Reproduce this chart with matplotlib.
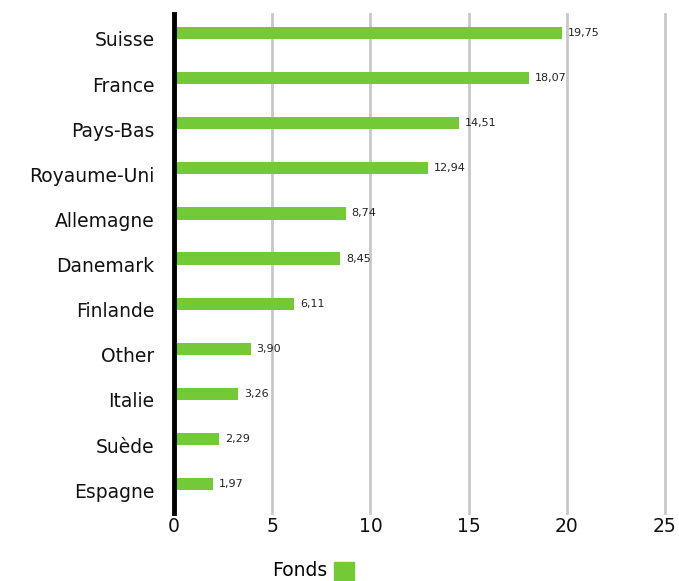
import matplotlib.pyplot as plt
from matplotlib.patches import Rectangle
from matplotlib.transforms import ScaledTranslation

countries = ['Suisse', 'France', 'Pays-Bas', 'Royaume-Uni', 'Allemagne', 'Danemark',
             'Finlande', 'Other', 'Italie', 'Suède', 'Espagne']
weights = [19.75, 18.07, 14.51, 12.94, 8.74, 8.45, 6.11, 3.90, 3.26, 2.29, 1.97]
xticks = [0, 5, 10, 15, 20, 25]

green = '#74c936'
plt.rcParams['font.family'] = ['DejaVu Sans']

fig = plt.figure(figsize=(6.79, 5.81), dpi=100)
ax = fig.add_axes([174 / 679, 1 - 513 / 581, 491 / 679, 499 / 581])

pos = list(range(len(countries)))
ax.barh(pos, weights, height=0.27, color=green, zorder=3)
for y, v in zip(pos, weights):
    ax.text(v + 0.3, y, f'{v:.2f}'.replace('.', ','), va='center', ha='left',
            fontsize=8, color='#222222')

ax.set_xlim(0, 25)
ax.set_ylim(len(countries) - 1 + 0.64, -0.42)
ax.set_yticks(pos)
ax.set_yticklabels(countries, fontsize=13.5, color='#111111')
ax.set_xticks(xticks)
ax.set_xticklabels([str(t) for t in xticks], fontsize=13.5, color='#111111')
ax.tick_params(length=0)
ax.tick_params(axis='x', pad=3)
ax.tick_params(axis='y', pad=14)
# country names sit a little below the bar centres
shift = ScaledTranslation(0, -6 / 100, fig.dpi_scale_trans)
for lbl in ax.get_yticklabels():
    lbl.set_transform(lbl.get_transform() + shift)

ax.xaxis.grid(True, color='#c8c8c8', linewidth=2, zorder=0)
for gl in ax.get_xgridlines():
    gl.set_clip_on(False)
for s in ['top', 'right', 'bottom']:
    ax.spines[s].set_visible(False)
ax.spines['left'].set_linewidth(3.5)
ax.spines['left'].set_color('black')
ax.spines['left'].set_zorder(4)

# legend under the axis
fig.text(327 / 679, 1 - 576 / 581, 'Fonds', ha='right', va='baseline', fontsize=13.5)
fig.patches.append(Rectangle((334 / 679, 1 - 581 / 581), 20 / 679, 19 / 581,
                             transform=fig.transFigure, color=green))

fig.savefig('out.png', dpi=100)
